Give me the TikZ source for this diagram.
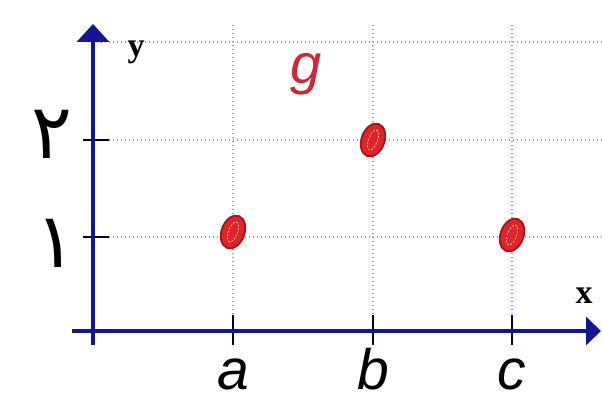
\documentclass[tikz,border=0pt]{standalone}
\usepackage{fontspec}
\setmainfont{Liberation Sans}
\newfontfamily\persianfont[Script=Arabic]{DejaVu Sans}
\newfontfamily\serifbold{Liberation Serif}
\usetikzlibrary{arrows.meta,shapes.geometric}
\definecolor{axisblue}{RGB}{20,20,150}
\definecolor{ptred}{RGB}{225,35,40}
\definecolor{ptdark}{RGB}{165,20,30}
\definecolor{gred}{RGB}{205,40,55}
\tikzset{
  gridline/.style={gray!80, line width=1.3pt, dash pattern=on 1.4pt off 2.6pt},
  axisline/.style={axisblue, line width=3.6pt},
  tickline/.style={black!80!blue, line width=1.6pt},
  ptstyle/.style={ellipse, draw=ptdark, line width=1.8pt, fill=ptred, minimum width=23pt, minimum height=34pt, inner sep=0pt, rotate=-20},
  ptinner/.style={ellipse, draw=white!75!red, line width=0.8pt, dash pattern=on 2pt off 1.5pt, minimum width=9pt, minimum height=21pt, inner sep=0pt, rotate=-20},
  letterlab/.style={font=\fontsize{57}{57}\selectfont\itshape, anchor=base, inner sep=0pt},
  axislab/.style={font=\serifbold\fontsize{34}{34}\selectfont\bfseries, anchor=base, inner sep=0pt},
  numlab/.style={font=\persianfont\fontsize{76}{76}\selectfont, inner sep=0pt}
}
\begin{document}
\begin{tikzpicture}[x=1pt,y=-1pt]
\useasboundingbox (0,0) rectangle (602,403);
% grid
\coordinate (h3l) at (93,42);  \coordinate (h3r) at (602,42);
\coordinate (h2l) at (93,140); \coordinate (h2r) at (602,140);
\coordinate (h1l) at (93,237); \coordinate (h1r) at (602,237);
\coordinate (vat) at (233,25); \coordinate (vab) at (233,331);
\coordinate (vbt) at (373,25); \coordinate (vbb) at (373,331);
\coordinate (vct) at (512,25); \coordinate (vcb) at (512,331);
\draw[gridline] (h3l) -- (h3r);
\draw[gridline] (h2l) -- (h2r);
\draw[gridline] (h1l) -- (h1r);
\draw[gridline] (vat) -- (vab);
\draw[gridline] (vbt) -- (vbb);
\draw[gridline] (vct) -- (vcb);
% ticks
\coordinate (ty2a) at (83,140); \coordinate (ty2b) at (109,140);
\coordinate (ty1a) at (83,237); \coordinate (ty1b) at (109,237);
\coordinate (txaa) at (233,315); \coordinate (txab) at (233,345);
\coordinate (txba) at (373,315); \coordinate (txbb) at (373,345);
\coordinate (txca) at (512,315); \coordinate (txcb) at (512,345);
\draw[tickline] (ty2a) -- (ty2b);
\draw[tickline] (ty1a) -- (ty1b);
\draw[tickline] (txaa) -- (txab);
\draw[tickline] (txba) -- (txbb);
\draw[tickline] (txca) -- (txcb);
% axes
\coordinate (ybot) at (93,345); \coordinate (ytop) at (93,24);
\coordinate (xleft) at (72,331); \coordinate (xright) at (601,331);
\draw[axisline, -{Triangle[width=32pt,length=18pt]}] (ybot) -- (ytop);
\draw[axisline, -{Triangle[width=28pt,length=15pt]}] (xleft) -- (xright);
% axis labels
\node[axislab] (ylab) at (136,57) {y};
\node[axislab] (xlab) at (584,303) {x};
\node[font=\fontsize{56}{56}\selectfont\itshape, text=gred, anchor=base, inner sep=0pt] (glab) at (306,84) {g};
% letter labels
\node[letterlab] (la) at (233,389) {a};
\node[letterlab] (lb) at (373,389) {b};
\node[letterlab] (lc) at (512,389) {c};
% number labels
\node[numlab] (n2) at (52,134) {۲};
\node[numlab] (n1) at (56,243) {۱};
% points
\node[ptstyle] (pa) at (233,232) {};
\node[ptstyle] (pb) at (373,140) {};
\node[ptstyle] (pc) at (512,235) {};
\node[ptinner] (pai) at (233,232) {};
\node[ptinner] (pbi) at (373,140) {};
\node[ptinner] (pci) at (512,235) {};
\end{tikzpicture}
\end{document}
